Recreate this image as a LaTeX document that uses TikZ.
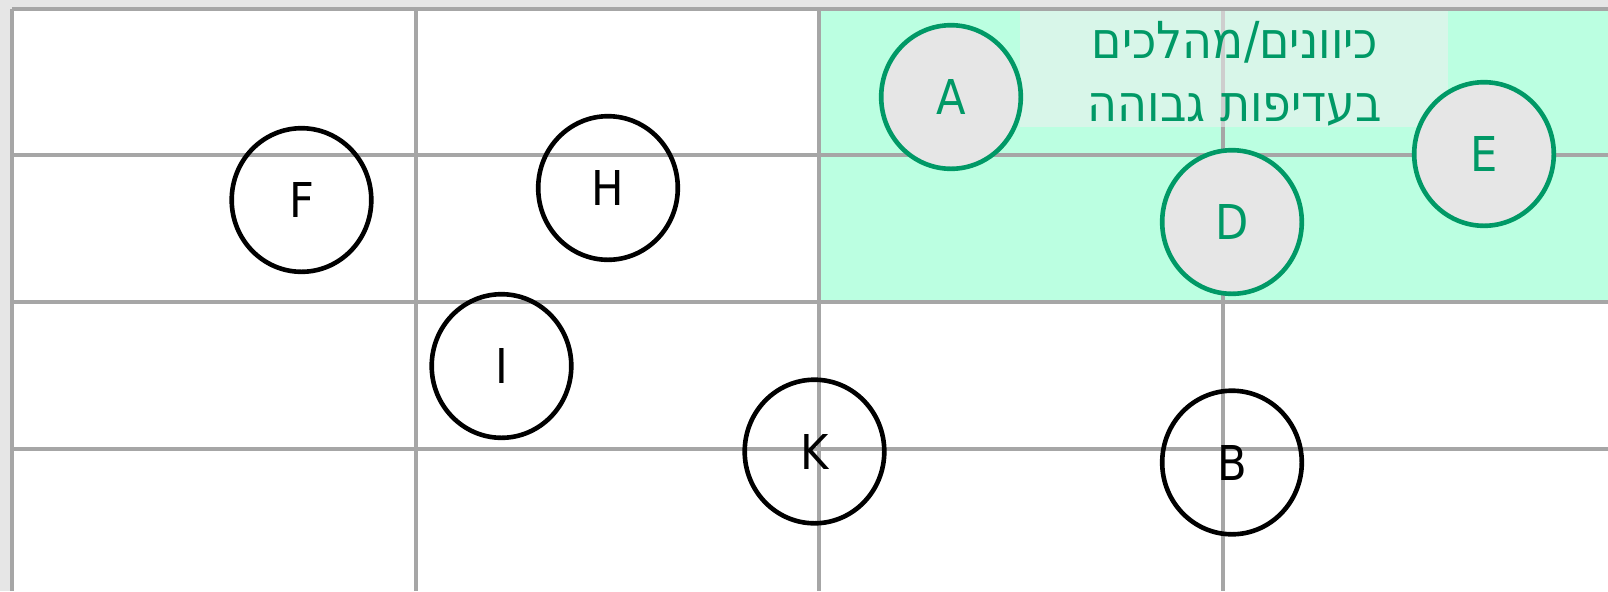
\documentclass[tikz,border=0pt]{standalone}
\usepackage{fontspec}
\TeXXeTstate=1
\newfontfamily\hebfont[Script=Hebrew]{DejaVu Sans Condensed}
\newfontfamily\lblfont{DejaVu Sans Condensed}
\usetikzlibrary{shapes.geometric}
\definecolor{gridgray}{HTML}{A6A6A6}
\definecolor{bggray}{HTML}{E6E6E6}
\definecolor{mint}{HTML}{BBFFE1}
\definecolor{dgreen}{HTML}{009966}
\definecolor{boxfill}{HTML}{F0F0F0}
\definecolor{circfill}{HTML}{E6E6E6}
\tikzset{
  gridline/.style={draw=gridgray, line width=1.8pt},
  plainnode/.style={ellipse, draw=black, line width=2.3pt, minimum width=69.8pt, minimum height=71.8pt, inner sep=0pt, font=\lblfont\fontsize{24}{28}\selectfont, text=black},
  prionode/.style={ellipse, draw=dgreen, fill=circfill, line width=2.3pt, minimum width=69.8pt, minimum height=71.8pt, inner sep=0pt, font=\lblfont\fontsize{24}{28}\selectfont, text=dgreen},
  hebtext/.style={anchor=base, inner sep=0pt, text=dgreen, font=\hebfont\fontsize{25.5}{31}\selectfont}
}
\begin{document}
\begin{tikzpicture}[x=0.5pt,y=-0.5pt]
\useasboundingbox (0,0) rectangle (1608,591);
\fill[bggray] (0,0) rectangle (1608,591);
\fill[white] (12,9) rectangle (1608,591);
\fill[mint] (819,9) rectangle (1608,302);
% grid
\foreach \yy in {9,155,302,449} { \draw[gridline] (12,\yy) -- (1608,\yy); }
\foreach \xx in {12,416,819,1223} { \draw[gridline] (\xx,9) -- (\xx,591); }
% label box
\fill[boxfill, opacity=0.55] (1020,10.8) rectangle (1448,127);
\node[hebtext] (heb1) at (1235,58) {\beginR כיוונים/מהלכים\endR};
\node[hebtext] (heb2) at (1235,121) {\beginR בעדיפות גבוהה\endR};
% nodes
\node[prionode] (A) at (951,97) {A};
\node[prionode] (D) at (1232,222) {D};
\node[prionode] (E) at (1484,154) {E};
\node[plainnode] (F) at (301.5,200) {F};
\node[plainnode] (H) at (608,188) {H};
\node[plainnode] (I) at (501.5,366) {I};
\node[plainnode] (K) at (814.5,451.5) {K};
\node[plainnode] (B) at (1232,462.5) {B};
\end{tikzpicture}
\end{document}
